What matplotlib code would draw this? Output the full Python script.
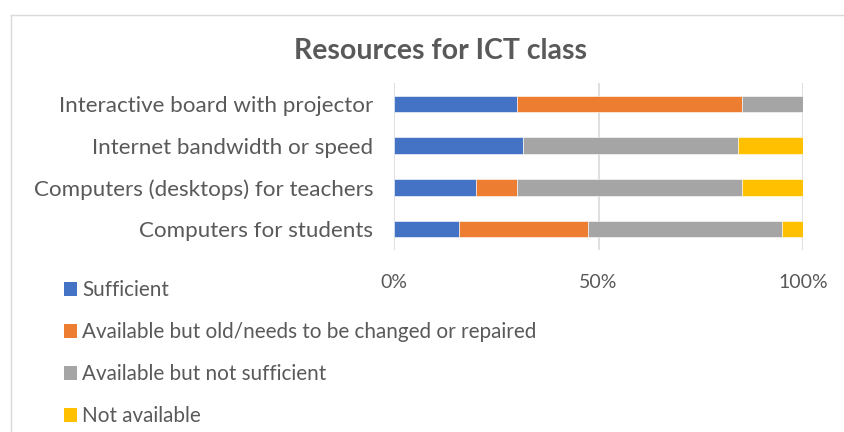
import matplotlib.pyplot as plt
from matplotlib.patches import Patch
from matplotlib.lines import Line2D

# --- Data (percent of respondents) ---
categories = ["Interactive board with projector",
              "Internet bandwidth or speed",
              "Computers (desktops) for teachers",
              "Computers for students"]
sufficient = [30.0, 31.6, 20.0, 15.8]
old_needs_repair = [55.0, 0.0, 10.0, 31.6]
not_sufficient = [15.0, 52.6, 55.0, 47.4]
not_available = [0.0, 15.8, 15.0, 5.2]

series_names = ["Sufficient",
                "Available but old/needs to be changed or repaired",
                "Available but not sufficient",
                "Not available"]
colors = ["#4472C4", "#ED7D31", "#A5A5A5", "#FFC000"]
text_color = "#595959"
font = "Lato"

# --- Figure ---
fig = plt.figure(figsize=(8.44, 4.32), dpi=100)
ax = fig.add_axes([394 / 844, 1 - 250 / 432, 409 / 844, 167 / 432])

series = [sufficient, old_needs_repair, not_sufficient, not_available]
y = range(len(categories))
left = [0.0] * len(categories)
for vals, name, col in zip(series, series_names, colors):
    ax.barh(y, vals, left=left, height=0.4, color=col, label=name,
            edgecolor="white", linewidth=0.4, zorder=3)
    left = [l + v for l, v in zip(left, vals)]

ax.set_xlim(0, 100)
ax.set_ylim(len(categories) - 0.5, -0.5)
ax.set_xticks([0, 50, 100])
ax.set_xticklabels(["0%", "50%", "100%"], fontsize=14, color=text_color, family=font)
ax.set_yticks(list(y))
ax.set_yticklabels(categories, fontsize=16.1, color=text_color, family=font)
ax.tick_params(axis="both", length=0)
ax.tick_params(axis="x", pad=17)
ax.tick_params(axis="y", pad=15)
ax.grid(axis="x", color="#D9D9D9", linewidth=1.2, zorder=0)
for s in ax.spines.values():
    s.set_visible(False)

# title
fig.text(441 / 844, 1 - 51 / 432, "Resources for ICT class", ha="center", va="center",
         fontsize=20.5, fontweight="bold", color=text_color, family=font)

# legend
handles = [Patch(facecolor=c, edgecolor="none") for c in colors]
fig.legend(handles, series_names, loc="upper left", bbox_to_anchor=(56 / 844, 1 - 272 / 432),
           frameon=False, prop={"family": font, "size": 14.9}, labelcolor=text_color,
           handlelength=0.63, handleheight=0.63, handletextpad=0.25, labelspacing=1.06,
           borderaxespad=0)

# chart border
fig.add_artist(Line2D([11 / 844, 11 / 844], [0, 1 - 15 / 432], transform=fig.transFigure,
                      color="#D9D9D9", linewidth=1))
fig.add_artist(Line2D([11 / 844, 1], [1 - 15 / 432, 1 - 15 / 432], transform=fig.transFigure,
                      color="#D9D9D9", linewidth=1))

fig.savefig("out.png", dpi=100)
